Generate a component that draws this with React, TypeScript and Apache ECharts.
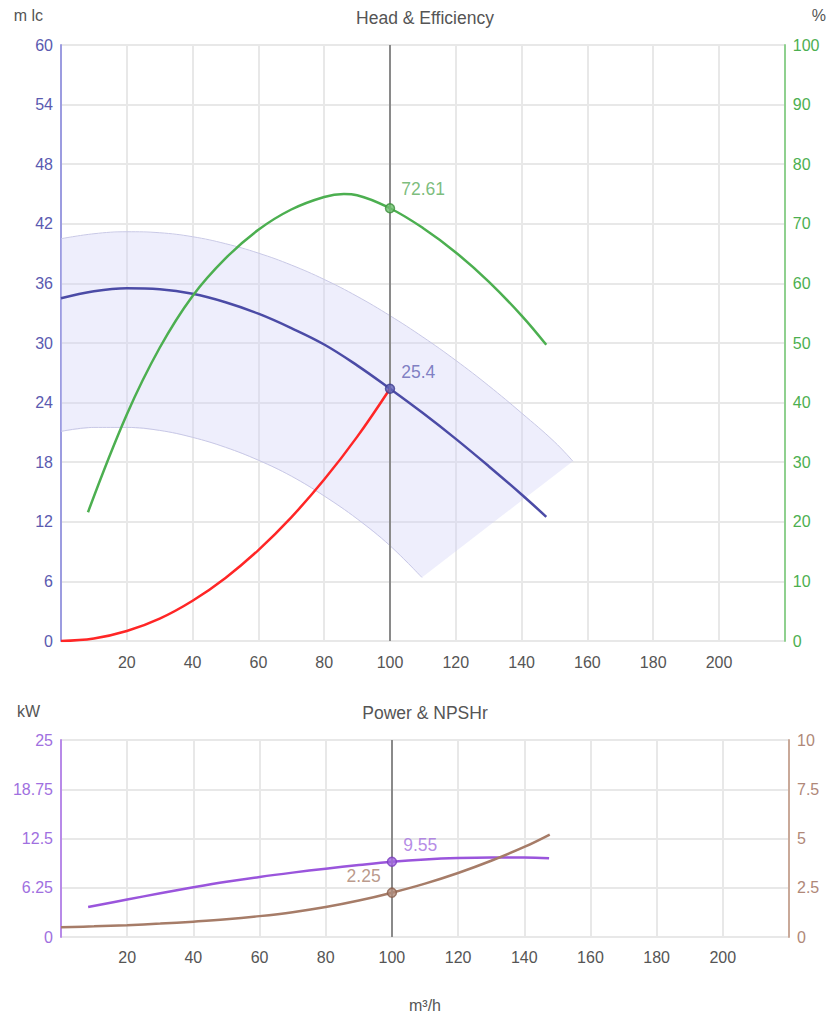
import React, { useEffect, useRef } from "react";
import * as echarts from "echarts";

// ---- Data ----
// Head curve (m lc) vs flow (m³/h)
const flowHead = [0, 10, 20, 30, 40, 50, 60, 70, 80, 90, 100, 110, 120, 130, 140, 147.5];
const head = [34.5, 35.2, 35.5, 35.4, 34.95, 34.1, 32.95, 31.5, 29.85, 27.75, 25.4, 22.95, 20.35, 17.6, 14.75, 12.5];

// Operating band (upper / lower head limits)
const bandFlowUpper = [0, 10, 20, 30, 40, 50, 60, 70, 80, 90, 100, 110, 120, 130, 140, 150, 155.6];
const bandUpper = [40.5, 41.0, 41.2, 41.1, 40.7, 40.0, 39.05, 37.85, 36.4, 34.7, 32.75, 30.6, 28.25, 25.7, 22.95, 20.05, 18.1];
const bandFlowLower = [0, 10, 20, 30, 40, 50, 60, 70, 80, 90, 100, 109.7];
const bandLower = [21.1, 21.5, 21.5, 21.2, 20.5, 19.5, 18.2, 16.6, 14.6, 12.3, 9.6, 6.4];

// System curve (m lc)
const flowSystem = [0, 10, 20, 30, 40, 50, 60, 70, 80, 90, 100];
const systemHead = [0, 0.25, 1.0, 2.25, 4.05, 6.35, 9.15, 12.45, 16.25, 20.55, 25.4];

// Efficiency (%)
const flowEff = [8.2, 20, 30, 40, 50, 60, 70, 80, 86, 90, 100, 110, 120, 130, 140, 147.5];
const efficiency = [21.6, 38.0, 49.2, 57.9, 64.2, 69.0, 72.4, 74.5, 75.0, 74.8, 72.61, 69.3, 65.2, 60.3, 54.6, 49.7];

// Power (kW)
const flowPower = [8.2, 20, 30, 40, 50, 60, 70, 80, 90, 100, 110, 120, 130, 140, 147.5];
const power = [3.8, 4.75, 5.55, 6.3, 7.0, 7.62, 8.17, 8.67, 9.13, 9.55, 9.85, 10.03, 10.1, 10.08, 9.98];

// NPSHr (m)
const flowNpsh = [0, 10, 20, 30, 40, 50, 60, 70, 80, 90, 100, 110, 120, 130, 140, 147.7];
const npsh = [0.5, 0.54, 0.6, 0.68, 0.78, 0.9, 1.06, 1.26, 1.52, 1.85, 2.25, 2.71, 3.25, 3.87, 4.57, 5.2];

// Operating point
const opFlow = 100;
const opHead = 25.4;
const opEff = 72.61;
const opPower = 9.55;
const opNpsh = 2.25;

// Titles / axis names
const titleTop = "Head & Efficiency";
const titleBottom = "Power & NPSHr";
const headUnit = "m lc";
const effUnit = "%";
const powerUnit = "kW";
const flowUnit = "m³/h";

const zip = (xs: number[], ys: number[]) => xs.map((x, i) => [x, ys[i]]);

const FONT = "Liberation Sans, Arial, sans-serif";
const GRID_LINE = { lineStyle: { color: "#e8e8e8", width: 2 } };

const C_HEAD = "#4b4ba6";
const C_EFF = "#4caf50";
const C_SYS = "#ff2626";
const C_POW = "#9a55dc";
const C_NPSH = "#a67c68";

export default function App() {
  const ref = useRef<HTMLDivElement>(null);

  useEffect(() => {
    document.body.style.margin = "0";
    const chart = echarts.init(ref.current!, null, { renderer: "svg" });

    const xAxisBase = (gridIndex: number, margin: number) => ({
      gridIndex,
      type: "value",
      min: 0,
      max: 220,
      interval: 20,
      axisLine: { show: false },
      axisTick: { show: false },
      axisLabel: {
        showMinLabel: false,
        showMaxLabel: false,
        color: "#555",
        fontSize: 16,
        margin,
        fontFamily: FONT,
      },
      splitLine: GRID_LINE,
    });

    const markerLabel = (color: string, position: "right" | "left", dy: number) => ({
      show: true,
      position,
      distance: 6,
      offset: [0, dy],
      color,
      fontSize: 17.5,
      fontFamily: FONT,
    });

    const vLine = {
      silent: true,
      symbol: ["none", "none"],
      label: { show: false },
      lineStyle: { color: "#8a8a8a", width: 2, type: "solid" },
      data: [{ xAxis: opFlow }],
    };

    const titleStyle = { color: "#555", fontSize: 17.5, fontWeight: "normal", fontFamily: FONT };

    const option: any = {
      animation: false,
      textStyle: { fontFamily: FONT },
      title: [
        { text: titleTop, left: 420, textAlign: "center", top: 4, textStyle: titleStyle },
        { text: titleBottom, left: 420, textAlign: "center", top: 699, textStyle: titleStyle },
      ],
      grid: [
        { left: 61, right: 40, top: 45, height: 596 },
        { left: 61, right: 40, top: 740, height: 197 },
      ],
      xAxis: [
        xAxisBase(0, 13),
        {
          ...xAxisBase(1, 12),
          name: flowUnit,
          nameLocation: "middle",
          nameGap: 60,
          nameTextStyle: { color: "#555", fontSize: 16, fontFamily: FONT },
        },
      ],
      yAxis: [
        {
          gridIndex: 0,
          type: "value",
          position: "left",
          min: 0,
          max: 60,
          interval: 6,
          name: headUnit,
          nameLocation: "end",
          nameGap: 30,
          nameTextStyle: {
            color: "#555",
            fontSize: 16,
            align: "right",
            verticalAlign: "middle",
            padding: [0, 18, 0, 0],
            fontFamily: FONT,
          },
          axisLine: { show: true, lineStyle: { color: "#9c9ce0", width: 2 } },
          axisTick: { show: false },
          axisLabel: { color: "#5a5ab0", fontSize: 16, margin: 8, fontFamily: FONT },
          splitLine: GRID_LINE,
        },
        {
          gridIndex: 0,
          type: "value",
          position: "right",
          min: 0,
          max: 100,
          interval: 10,
          name: effUnit,
          nameLocation: "end",
          nameGap: 30,
          nameTextStyle: {
            color: "#555",
            fontSize: 16,
            align: "left",
            verticalAlign: "middle",
            padding: [0, 0, 0, 27],
            fontFamily: FONT,
          },
          axisLine: { show: true, lineStyle: { color: "#8fd08f", width: 2 } },
          axisTick: { show: false },
          axisLabel: { color: "#4caf50", fontSize: 16, margin: 8, fontFamily: FONT },
          splitLine: { show: false },
        },
        {
          gridIndex: 1,
          type: "value",
          position: "left",
          min: 0,
          max: 25,
          interval: 6.25,
          name: powerUnit,
          nameLocation: "end",
          nameGap: 29,
          nameTextStyle: {
            color: "#555",
            fontSize: 16,
            align: "right",
            verticalAlign: "middle",
            padding: [0, 21, 0, 0],
            fontFamily: FONT,
          },
          axisLine: { show: true, lineStyle: { color: "#b88ae8", width: 2 } },
          axisTick: { show: false },
          axisLabel: { color: "#a070e0", fontSize: 16, margin: 8, fontFamily: FONT },
          splitLine: GRID_LINE,
        },
        {
          gridIndex: 1,
          type: "value",
          position: "right",
          min: 0,
          max: 10,
          interval: 2.5,
          axisLine: { show: true, lineStyle: { color: "#c9a999", width: 2 } },
          axisTick: { show: false },
          axisLabel: { color: "#b08878", fontSize: 16, margin: 8, fontFamily: FONT },
          splitLine: { show: false },
        },
      ],
      series: [
        {
          name: "band",
          type: "custom",
          xAxisIndex: 0,
          yAxisIndex: 0,
          silent: true,
          z: 1,
          data: [[0, 0]],
          renderItem: (_params: any, api: any) => {
            const up = bandFlowUpper.map((x, i) => api.coord([x, bandUpper[i]]));
            const low = bandFlowLower.map((x, i) => api.coord([x, bandLower[i]])).reverse();
            return {
              type: "polygon",
              shape: { points: [...up, ...low], smooth: 0 },
              style: { fill: "rgba(205,205,245,0.35)", stroke: "none" },
            };
          },
        },
        {
          name: "bandUpper",
          type: "line",
          xAxisIndex: 0,
          yAxisIndex: 0,
          data: zip(bandFlowUpper, bandUpper),
          smooth: 0.4,
          showSymbol: false,
          silent: true,
          z: 2,
          lineStyle: { color: "#c8c8e6", width: 1 },
        },
        {
          name: "bandLower",
          type: "line",
          xAxisIndex: 0,
          yAxisIndex: 0,
          data: zip(bandFlowLower, bandLower),
          smooth: 0.4,
          showSymbol: false,
          silent: true,
          z: 2,
          lineStyle: { color: "#c8c8e6", width: 1 },
        },
        {
          name: "System",
          type: "line",
          xAxisIndex: 0,
          yAxisIndex: 0,
          data: zip(flowSystem, systemHead),
          smooth: 0.4,
          showSymbol: false,
          z: 3,
          lineStyle: { color: C_SYS, width: 2.5 },
        },
        {
          name: "Head",
          type: "line",
          xAxisIndex: 0,
          yAxisIndex: 0,
          data: zip(flowHead, head),
          smooth: 0.4,
          showSymbol: false,
          z: 4,
          lineStyle: { color: C_HEAD, width: 2.5 },
          markLine: vLine,
        },
        {
          name: "Efficiency",
          type: "line",
          xAxisIndex: 0,
          yAxisIndex: 1,
          data: zip(flowEff, efficiency),
          smooth: 0.4,
          showSymbol: false,
          z: 4,
          lineStyle: { color: C_EFF, width: 2.5 },
        },
        {
          name: "HeadPoint",
          type: "scatter",
          xAxisIndex: 0,
          yAxisIndex: 0,
          data: [[opFlow, opHead]],
          symbolSize: 9,
          z: 6,
          itemStyle: { color: "#6262b8", borderColor: "#3d3d90", borderWidth: 1.5 },
          label: { ...markerLabel("#6262b4", "right", -17), formatter: (p: any) => String(p.value[1]) },
        },
        {
          name: "EffPoint",
          type: "scatter",
          xAxisIndex: 0,
          yAxisIndex: 1,
          data: [[opFlow, opEff]],
          symbolSize: 9,
          z: 6,
          itemStyle: { color: "#6cbf6c", borderColor: "#3d8f3d", borderWidth: 1.5 },
          label: { ...markerLabel("#5aac5a", "right", -19), formatter: (p: any) => String(p.value[1]) },
        },
        {
          name: "Power",
          type: "line",
          xAxisIndex: 1,
          yAxisIndex: 2,
          data: zip(flowPower, power),
          smooth: 0.4,
          showSymbol: false,
          z: 4,
          lineStyle: { color: C_POW, width: 2.5 },
          markLine: vLine,
        },
        {
          name: "NPSHr",
          type: "line",
          xAxisIndex: 1,
          yAxisIndex: 3,
          data: zip(flowNpsh, npsh),
          smooth: 0.4,
          showSymbol: false,
          z: 4,
          lineStyle: { color: C_NPSH, width: 2.5 },
        },
        {
          name: "PowerPoint",
          type: "scatter",
          xAxisIndex: 1,
          yAxisIndex: 2,
          data: [[opFlow, opPower]],
          symbolSize: 9,
          z: 6,
          itemStyle: { color: "#a066e0", borderColor: "#7a3dbd", borderWidth: 1.5 },
          label: { ...markerLabel("#a36ee0", "right", -17), formatter: (p: any) => String(p.value[1]) },
        },
        {
          name: "NpshPoint",
          type: "scatter",
          xAxisIndex: 1,
          yAxisIndex: 3,
          data: [[opFlow, opNpsh]],
          symbolSize: 9,
          z: 6,
          itemStyle: { color: "#b08a78", borderColor: "#8a5f4c", borderWidth: 1.5 },
          label: { ...markerLabel("#a8806e", "left", -17), formatter: (p: any) => String(p.value[1]) },
        },
      ],
    };

    chart.setOption(option);
    return () => chart.dispose();
  }, []);

  return <div ref={ref} style={{ width: 829, height: 1015 }} />;
}
